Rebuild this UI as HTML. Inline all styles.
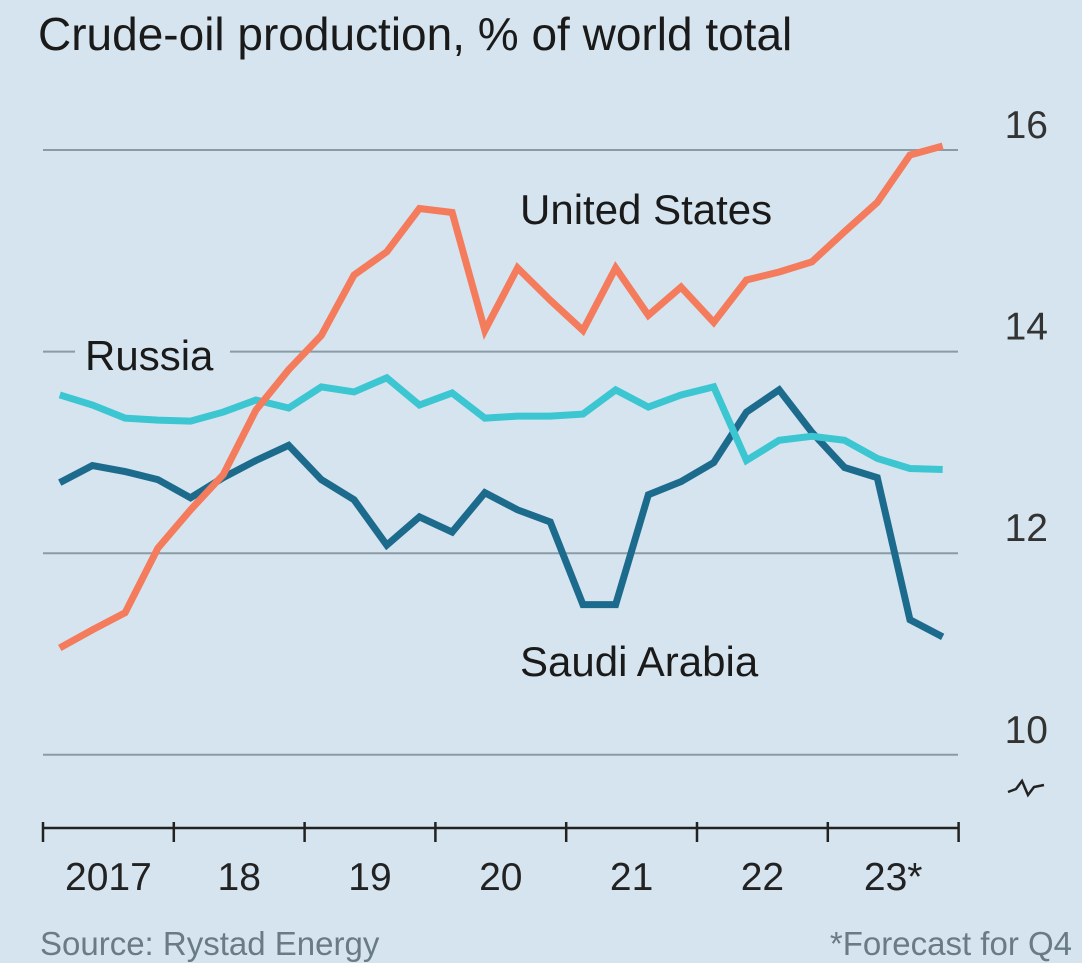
<!DOCTYPE html>
<html><head><meta charset="utf-8"><style>
html,body{margin:0;padding:0;background:#d5e4ee;}
svg{display:block;font-family:"Liberation Sans",sans-serif;}
</style></head><body>
<svg id="chart" width="1082" height="963" viewBox="0 0 1082 963">
<rect width="1082" height="963" fill="#d5e4ee"/>
<text x="38" y="50" font-size="46" fill="#1a1a1a">Crude-oil production, % of world total</text>
<g id="grid"></g>
<g id="series"></g>
<g id="labels"></g>
<path d="M1008,792 l8,-3 l6,-8 l6,14 l6,-8 l10,-2" fill="none" stroke="#222" stroke-width="2.5"/>
<text x="40" y="955" font-size="33" fill="#6b7b86">Source: Rystad Energy</text>
<text x="1072" y="955" font-size="33" fill="#6b7b86" text-anchor="end">*Forecast for Q4</text>
</svg>
<script>
const yTicks=[10,12,14,16];
const years=["2017","18","19","20","21","22","23*"];
const us=[11.06,11.24,11.41,12.05,12.43,12.78,13.42,13.82,14.16,14.76,14.99,15.42,15.38,14.21,14.83,14.51,14.21,14.83,14.36,14.64,14.29,14.71,14.79,14.89,15.19,15.48,15.95,16.04];
const russia=[13.57,13.47,13.34,13.32,13.31,13.40,13.52,13.44,13.65,13.60,13.74,13.47,13.59,13.34,13.36,13.36,13.38,13.62,13.45,13.57,13.65,12.92,13.12,13.16,13.12,12.94,12.84,12.83];
const saudi=[12.70,12.87,12.81,12.73,12.55,12.75,12.92,13.07,12.73,12.53,12.08,12.36,12.21,12.60,12.43,12.31,11.49,11.49,12.58,12.71,12.90,13.40,13.62,13.20,12.85,12.75,11.34,11.17];
const NS="http://www.w3.org/2000/svg";
const x0=43, yearW=130.8;
const xq=i=>x0+yearW*(i+0.5)/4+0.4;
const y=v=>150+(16-v)*100.8;
function mk(tag,attrs,parent){const e=document.createElementNS(NS,tag);for(const k in attrs)e.setAttribute(k,attrs[k]);parent.appendChild(e);return e;}
const grid=document.getElementById('grid'),ser=document.getElementById('series'),lab=document.getElementById('labels');
yTicks.forEach(t=>{
 const l=mk('line',{x1:43,x2:958,y1:y(t),y2:y(t),stroke:'#8b9ba6','stroke-width':2},grid);
 
 
 const tx=mk('text',{x:1048,y:y(t)-12,'font-size':39,fill:'#333','text-anchor':'end'},grid);
 tx.textContent=t;
 
 
});
const ax=mk('line',{x1:43,x2:958,y1:828,y2:828,stroke:'#222','stroke-width':2.5},grid);


for(let i=0;i<=years.length;i++){
 const xx=x0+i*yearW;
 const tk=mk('line',{x1:xx,x2:xx,y1:822,y2:842,stroke:'#222','stroke-width':2.5},grid);
 
 
}
years.forEach((yr,i)=>{
 const t=mk('text',{x:x0+(i+0.5)*yearW,y:890,'font-size':39,fill:'#222','text-anchor':'middle'},grid);
 t.textContent=yr;
 
 
});
function line(data,color,name){
 const p=mk('polyline',{points:data.map((v,i)=>xq(i)+','+y(v)).join(' '),fill:'none',stroke:color,'stroke-width':7,'stroke-linejoin':'miter','stroke-linecap':'butt'},ser);
 
 
}
line(saudi,'#1c6b8d','saudi-arabia-line');
line(russia,'#3cc6d2','russia-line');
line(us,'#f47b5c','united-states-line');
const rb=mk('rect',{x:75,y:330,width:155,height:45,fill:'#d5e4ee'},lab);


[["Russia",85,370,'russia-label'],["United States",520,224,'united-states-label'],["Saudi Arabia",520,676,'saudi-arabia-label']].forEach(a=>{
 const t=mk('text',{x:a[1],y:a[2],'font-size':42,fill:'#1a1a1a'},lab);
 t.textContent=a[0];
 
 
});
</script>
</body></html>
